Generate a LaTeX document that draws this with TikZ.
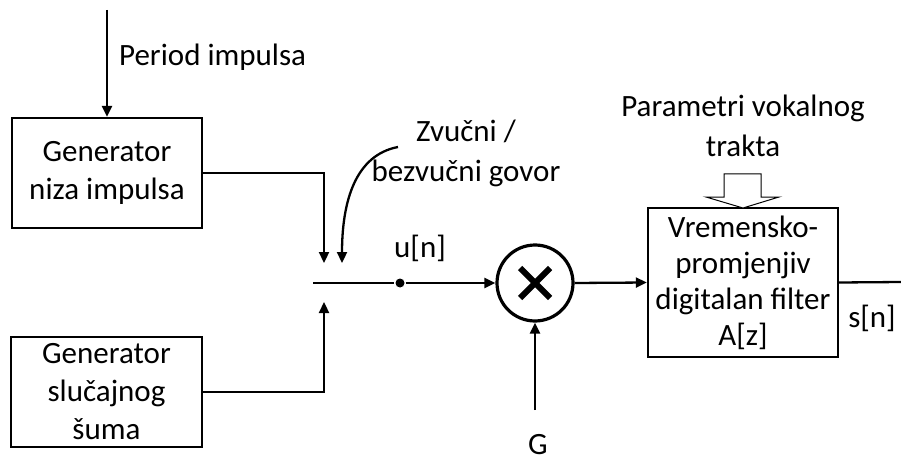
\documentclass[tikz,border=0pt]{standalone}
\usepackage{fontspec}
\setmainfont{Carlito}
\usetikzlibrary{arrows.meta,calc}
\begin{document}
\begin{tikzpicture}[x=1pt,y=-1pt,
  line width=2.3pt,
  lbl/.style={font=\fontsize{31}{40}\selectfont, align=center, inner sep=0pt},
  box/.style={draw, line width=2.3pt, font=\fontsize{31}{38}\selectfont, align=center, inner sep=0pt},
  arr/.style={-{Triangle[length=11pt,width=10pt]}, line width=2.3pt},
  dotn/.style={circle, fill, inner sep=0pt, minimum size=9pt}]
\useasboundingbox (0,0) rectangle (901,465);
% boxes
\node[box, minimum width=190pt, minimum height=110pt] (gen1) at (107,173) {Generator\\niza impulsa};
\node[box, minimum width=191pt, minimum height=110pt] (gen2) at (106.5,392) {Generator\\slučajnog\\šuma};
\node[box, minimum width=190pt, minimum height=149pt, font=\fontsize{31}{36}\selectfont] (filt) at (743,282.5) {Vremensko-\\promjenjiv\\digitalan filter\\A[z]};
\node[draw, circle, line width=3.2pt, minimum size=76pt, inner sep=0pt] (mul) at (535,283) {};
\draw[line width=6pt] ($(mul.center)+(-15,-15)$) -- ($(mul.center)+(15,15)$);
\draw[line width=6pt] ($(mul.center)+(-15,15)$) -- ($(mul.center)+(15,-15)$);
% labels
\node[lbl, anchor=west] (lp) at (118,57) {Period impulsa};
\node[lbl] (lz) at (466,153) {Zvučni /\\bezvučni govor};
\node[lbl] (lpar) at (743,126) {Parametri vokalnog\\trakta};
\node[lbl] (lu) at (420,248) {u[n]};
\node[lbl] (lg) at (538,445) {G};
\node[lbl] (ls) at (872,318) {s[n]};
% coordinates
\coordinate (pin) at (107,10);
\coordinate (sw1) at (324,263);
\coordinate (sw2) at (324,302);
\coordinate (sw) at (313,283);
\node[dotn] (dot) at (400,283) {};
\coordinate (gs) at (535,410);
\coordinate (out) at (901,282);
\coordinate (cs) at (398,147);
\coordinate (ce) at (342,263);
% connectors
\draw[arr] (pin) -- (gen1.north);
\draw[arr] (gen1.east) -| (sw1);
\draw[arr] (gen2.east) -| (sw2);
\draw (sw) -- (dot);
\draw[arr] (dot) -- (mul.west);
\draw[arr] (gs) -- (mul.south);
\draw[arr] (mul.east) -- (filt.west);
\draw (filt.east) -- (out);
\draw[arr] (cs) .. controls (356,155) and (342,200) .. (ce);
% hollow arrow
\draw[line width=1pt, fill=white] (724,174) -- (761,174) -- (761,197) -- (779,197) -- (743,208) -- (706,197) -- (724,197) -- cycle;
\end{tikzpicture}
\end{document}
